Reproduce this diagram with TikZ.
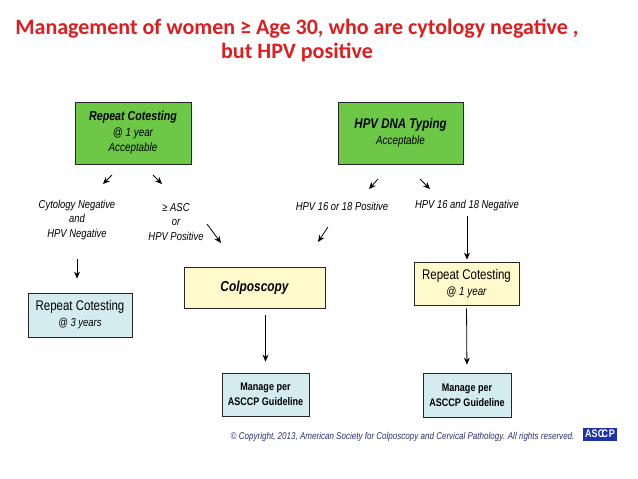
\documentclass[tikz,border=0pt]{standalone}
\usepackage{fontspec}
\usetikzlibrary{arrows.meta,positioning}

\newfontfamily\narrowfont{Liberation Sans}[FakeStretch=0.82]
\newfontfamily\titlefont{Carlito}

\definecolor{titlered}{RGB}{222,30,30}
\definecolor{boxgreen}{RGB}{108,200,70}
\definecolor{boxyellow}{RGB}{255,249,204}
\definecolor{boxblue}{RGB}{212,236,240}
\definecolor{copyblue}{RGB}{45,45,115}
\definecolor{logoblue}{RGB}{30,50,170}

\tikzset{
  box/.style={draw=black!85, line width=0.8pt, inner sep=0pt, align=center, font=\narrowfont},
  greenbox/.style={box, fill=boxgreen},
  yellowbox/.style={box, fill=boxyellow},
  bluebox/.style={box, fill=boxblue},
  managebox/.style={bluebox, font=\narrowfont\bfseries\fontsize{11}{15}\selectfont},
  lbl/.style={align=center, inner sep=0pt, font=\narrowfont\itshape\fontsize{11.5}{14.5}\selectfont},
  arr/.style={-{Stealth[length=7pt,width=6pt]}, line width=0.8pt}
}

\begin{document}
\begin{tikzpicture}[x=1pt,y=-1pt]
		\useasboundingbox (0,0) rectangle (638,479);

		% title
		\node[align=center, text=titlered, font=\titlefont\bfseries\fontsize{22}{24}\selectfont] (title) at (297,40)
			{Management of women ≥ Age 30, who are cytology negative ,\\but HPV positive};

		% boxes
		\node[greenbox, minimum width=116pt, minimum height=62pt] (rcone) at (133,133)
			{{\fontsize{13}{16}\selectfont\bfseries\itshape Repeat Cotesting}\\[3.5pt]
			 {\fontsize{12}{15.5}\selectfont\itshape @ 1 year}\\[3.5pt]
			 {\fontsize{12}{15.5}\selectfont\itshape Acceptable}};
		\node[greenbox, minimum width=125pt, minimum height=62pt] (typing) at (400.5,133)
			{{\fontsize{14}{16}\selectfont\bfseries\itshape HPV DNA Typing}\\[4pt]
			 {\fontsize{12}{15}\selectfont\itshape Acceptable}};
		\node[yellowbox, minimum width=141pt, minimum height=41pt] (colpo) at (254.5,287.5)
			{\fontsize{14.5}{16}\selectfont\bfseries\itshape Colposcopy};
		\node[yellowbox, minimum width=105pt, minimum height=43pt] (rcyear) at (466.5,283.5)
			{{\fontsize{14}{17}\selectfont Repeat Cotesting}\\[4pt]
			 {\fontsize{12}{15}\selectfont\itshape @ 1 year}};
		\node[bluebox, minimum width=104pt, minimum height=44pt] (rcthree) at (80,315)
			{{\fontsize{14}{17}\selectfont Repeat Cotesting}\\[4pt]
			 {\fontsize{11.5}{15}\selectfont\itshape @ 3 years}};
		\node[managebox, minimum width=87pt, minimum height=43pt] (manleft) at (265.5,394.5)
			{Manage per\\ASCCP Guideline};
		\node[managebox, minimum width=88pt, minimum height=44pt] (manright) at (467,395)
			{Manage per\\ASCCP Guideline};

		% labels
		\node[lbl] (cytoneg) at (77,220) {Cytology Negative\\and\\HPV Negative};
		\node[lbl] (ascpos) at (176,222) {≥ ASC\\or\\HPV Positive};
		\node[lbl] (typepos) at (342,206) {HPV 16 or 18 Positive};
		\node[lbl] (typeneg) at (467,206) {HPV 16 and 18 Negative};

		% short arrows
		\coordinate (aone) at (112,175);  \coordinate (aonee) at (103,184);
		\coordinate (atwo) at (153,175);  \coordinate (atwoe) at (162,184);
		\coordinate (bone) at (378,179);  \coordinate (bonee) at (369,189);
		\coordinate (btwo) at (420,179);  \coordinate (btwoe) at (430,189);
		\coordinate (cone) at (207,224);  \coordinate (conee) at (221,243);
		\coordinate (ctwo) at (328,227);  \coordinate (ctwoe) at (318,242);

		\draw[arr] (aone) -- (aonee);
		\draw[arr] (atwo) -- (atwoe);
		\draw[arr] (bone) -- (bonee);
		\draw[arr] (btwo) -- (btwoe);
		\draw[arr] (cone) -- (conee);
		\draw[arr] (ctwo) -- (ctwoe);

		% long arrows
		\draw[arr, shorten <=19pt, shorten >=14pt] (cytoneg.south) -- (cytoneg.south |- rcthree.north);
		\draw[arr, shorten <=4pt, shorten >=2pt] (typeneg.south) -- (typeneg.south |- rcyear.north);
		\draw[arr, shorten <=7pt, shorten >=11pt] (colpo.south -| manleft) -- (manleft.north);
		\draw[arr, shorten <=3pt, shorten >=8pt] (rcyear.south) -- (manright.north);

		% copyright line
		\node[text=copyblue, font=\narrowfont\itshape\fontsize{9.8}{11}\selectfont, anchor=east] (copy) at (578,437)
			{© Copyright, 2013, American Society for Colposcopy and Cervical Pathology. All rights reserved.};
		\node[fill=logoblue, text=white, inner sep=0pt, minimum width=34pt, minimum height=13pt,
			font=\narrowfont\bfseries\fontsize{11}{12}\selectfont] (logo) at (600,434)
			{AS\kern0.3pt C\kern-3pt C\kern0.8pt P};
\end{tikzpicture}
\end{document}
